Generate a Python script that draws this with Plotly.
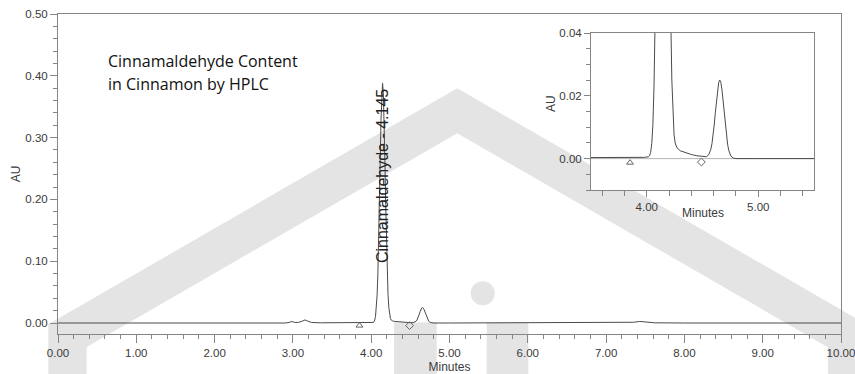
import plotly.graph_objects as go

# ---- chromatogram data ----
retention_min = [
    0.00, 1.00, 1.20, 1.55, 1.64, 1.75, 2.00, 2.50, 2.90, 2.95, 2.985, 3.02, 3.07, 3.12, 3.155, 3.19, 3.24, 3.35, 3.60, 3.90, 3.98,
    4.015, 4.025, 4.035, 4.045, 4.055, 4.065, 4.075, 4.085, 4.095, 4.105, 4.115, 4.125, 4.135, 4.145,
    4.155, 4.165, 4.175, 4.185, 4.195, 4.205, 4.215, 4.225, 4.235, 4.245, 4.255, 4.27, 4.30, 4.35, 4.40, 4.45, 4.50,
    4.535, 4.555, 4.575, 4.585, 4.595, 4.605, 4.615, 4.625, 4.635, 4.645, 4.655, 4.665, 4.675, 4.685, 4.695,
    4.705, 4.715, 4.725, 4.735, 4.755, 4.775, 4.80, 5.00,
    6.00, 7.00, 7.25, 7.35, 7.43, 7.52, 7.62, 8.00, 9.00, 10.00,
]
absorbance_au = [
    0.0, 0.0, 0.0003, -0.0004, -0.0008, -0.0003, 0.0, 0.0, 0.0, 0.0008, 0.0025, 0.0010, 0.0010, 0.0030, 0.0050, 0.0030, 0.0008, 0.0003, 0.0003, 0.0003, 0.0004,
    0.0006, 0.0009, 0.0020, 0.0048, 0.0108, 0.0229, 0.044, 0.079, 0.129, 0.192, 0.263, 0.328, 0.373, 0.388,
    0.373, 0.328, 0.263, 0.192, 0.130, 0.080, 0.046, 0.025, 0.013, 0.0075, 0.0050, 0.0035, 0.0025, 0.0018, 0.0013, 0.0009, 0.0006,
    0.0006, 0.0012, 0.0030, 0.0048, 0.0074, 0.0107, 0.0146, 0.0185, 0.0219, 0.0242, 0.0250, 0.0242, 0.0218, 0.0183, 0.0144,
    0.0105, 0.0072, 0.0046, 0.0027, 0.0008, 0.0002, 0.0, 0.0,
    0.0, 0.0, 0.0003, 0.0012, 0.0025, 0.0012, 0.0003, 0.0, 0.0, 0.0,
]

# integration markers (start triangle, end diamond)
marker_times = [3.85, 4.49]
marker_main_au = [-0.0042, -0.0042]
marker_inset_au = [-0.0013, -0.0011]
marker_symbols = ["triangle-up-open", "diamond-open"]

peak_name = "Cinnamaldehyde"
peak_time = 4.145
peak_label_au = 0.237

main_x_range = [0, 10]
main_y_range = [-0.0178, 0.50]
inset_x_range = [3.5, 5.5]
inset_y_range = [-0.01, 0.04]

title_lines = ["Cinnamaldehyde Content", "in Cinnamon by HPLC"]

# ---- layout geometry (pixels) ----
W, H = 855, 374
ML, MR, MT, MB = 58, 14, 14, 40
PW, PH = W - ML - MR, H - MT - MB


def px(xp):
    return (xp - ML) / PW


def py(yp):
    return (H - MB - yp) / PH


AXC = "#858585"
TXT = "#3a3a3a"
TRACE = "#4a4a4a"
WM = "#e4e4e4"
TICKFONT = dict(family="Liberation Sans, Arial, sans-serif", size=11.5, color=TXT)
TITLEFONT = dict(family="Liberation Sans, Arial, sans-serif", size=12, color=TXT)

fig = go.Figure()

# main chromatogram
fig.add_trace(go.Scatter(x=retention_min, y=absorbance_au, mode="lines",
                         line=dict(color=TRACE, width=1), xaxis="x", yaxis="y",
                         showlegend=False, hoverinfo="skip"))
fig.add_trace(go.Scatter(x=marker_times, y=marker_main_au, mode="markers",
                         marker=dict(symbol=marker_symbols, size=6, color="#666",
                                     line=dict(width=1, color="#666")),
                         xaxis="x", yaxis="y", showlegend=False, hoverinfo="skip"))

# inset baseline + chromatogram
fig.add_trace(go.Scatter(x=inset_x_range, y=[0, 0], mode="lines",
                         line=dict(color="#b5b5b5", width=1), xaxis="x2", yaxis="y2",
                         showlegend=False, hoverinfo="skip"))
fig.add_trace(go.Scatter(x=retention_min, y=absorbance_au, mode="lines",
                         line=dict(color=TRACE, width=1), xaxis="x2", yaxis="y2",
                         showlegend=False, hoverinfo="skip"))
fig.add_trace(go.Scatter(x=marker_times, y=marker_inset_au, mode="markers",
                         marker=dict(symbol=marker_symbols, size=6, color="#666",
                                     line=dict(width=1, color="#666")),
                         xaxis="x2", yaxis="y2", showlegend=False, hoverinfo="skip"))

# ---- watermark shapes ----
poly = [(48.3, 420), (48.3, 324.3), (457.3, 88.3), (866.3, 324.3), (866.3, 420),
        (827.9, 420), (827.9, 347.2), (457.3, 133.3), (86.7, 346.9), (86.7, 420)]
path = "M " + " L ".join(f"{px(a):.5f},{py(b):.5f}" for a, b in poly) + " Z"
shapes = [
    dict(type="path", path=path, xref="paper", yref="paper", fillcolor=WM,
         line=dict(width=0), layer="below"),
    dict(type="circle", xref="paper", yref="paper", x0=px(470.7), x1=px(494.7),
         y0=py(305.3), y1=py(281.3), fillcolor=WM, line=dict(width=0), layer="below"),
    dict(type="rect", xref="paper", yref="paper", x0=px(394), x1=px(436.7),
         y0=py(420), y1=py(322.5), fillcolor=WM, line=dict(width=0), layer="below"),
    dict(type="rect", xref="paper", yref="paper", x0=px(486.7), x1=px(528.3),
         y0=py(420), y1=py(322.5), fillcolor=WM, line=dict(width=0), layer="below"),
    # white background of inset plot area
    dict(type="rect", xref="paper", yref="paper", x0=px(591), x1=px(814),
         y0=py(190), y1=py(33), fillcolor="white", line=dict(width=0), layer="below"),
]

annotations = [
    dict(text=title_lines[0], xref="paper", yref="paper", x=px(106), y=py(61),
         xanchor="left", yanchor="middle", showarrow=False,
         font=dict(family="Open Sans, sans-serif", size=16, color="#111")),
    dict(text=title_lines[1], xref="paper", yref="paper", x=px(106), y=py(84),
         xanchor="left", yanchor="middle", showarrow=False,
         font=dict(family="Open Sans, sans-serif", size=16, color="#111")),
    dict(text=f"{peak_name} - {peak_time:.3f}", xref="x", yref="y", x=peak_time,
         y=peak_label_au, textangle=-90, xanchor="center", yanchor="middle",
         showarrow=False,
         font=dict(family="Liberation Sans, Arial, sans-serif", size=16, color="#222")),
    # inset axis titles
    dict(text="Minutes", xref="paper", yref="paper", x=px(702.5), y=py(213),
         xanchor="center", yanchor="middle", showarrow=False, font=TITLEFONT),
    dict(text="AU", xref="paper", yref="paper", x=px(551), y=py(104), textangle=-90,
         xanchor="center", yanchor="middle", showarrow=False, font=TITLEFONT),
]

common_axis = dict(showline=True, linecolor=AXC, linewidth=1, mirror=True,
                   ticks="outside", tickcolor=AXC, showgrid=False, zeroline=False,
                   tickfont=TICKFONT, tickformat=".2f", automargin=False,
                   ticklabeloverflow="allow")

fig.update_layout(
    width=W, height=H,
    margin=dict(l=ML, r=MR, t=MT, b=MB, autoexpand=False),
    paper_bgcolor="white", plot_bgcolor="rgba(0,0,0,0)",
    shapes=shapes, annotations=annotations, showlegend=False,
    xaxis=dict(common_axis, range=main_x_range, domain=[0, 1], anchor="y",
               tick0=0, dtick=1, ticklen=8,
               minor=dict(dtick=0.2, ticks="outside", ticklen=4, tickcolor=AXC),
               title=dict(text="Minutes", font=TITLEFONT, standoff=4)),
    yaxis=dict(common_axis, range=main_y_range, domain=[0, 1], anchor="x",
               tick0=0, dtick=0.1, ticklen=7,
               minor=dict(dtick=0.02, ticks="outside", ticklen=4, tickcolor=AXC),
               title=dict(text="AU", font=TITLEFONT, standoff=2)),
    xaxis2=dict(common_axis, range=inset_x_range, domain=[px(591), px(814)], anchor="y2",
                tick0=0, dtick=1, ticklen=6,
                minor=dict(dtick=0.2, ticks="outside", ticklen=5, tickcolor=AXC)),
    yaxis2=dict(common_axis, range=inset_y_range, domain=[py(190), py(33)], anchor="x2",
                tick0=0, dtick=0.02, ticklen=6,
                minor=dict(dtick=0.005, ticks="outside", ticklen=4, tickcolor=AXC)),
)

fig.write_html("out.html", config={"displayModeBar": False},
               post_script="document.body.style.margin='0px';document.body.style.padding='0px';")
